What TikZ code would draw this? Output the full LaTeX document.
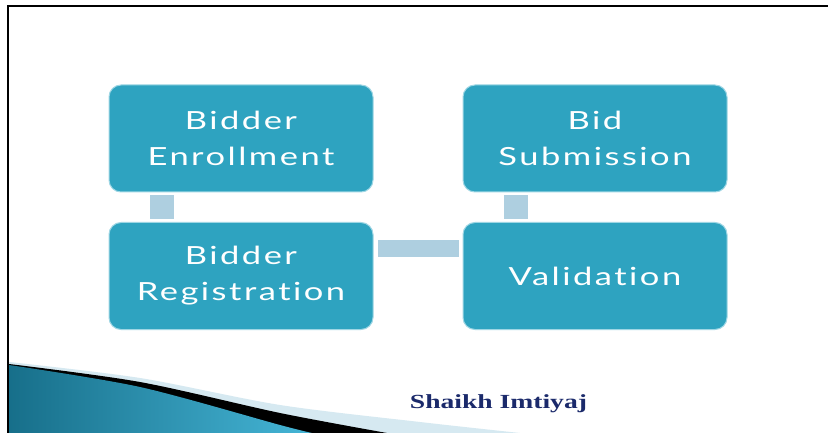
\documentclass[tikz,border=0pt]{standalone}
\usepackage{fontspec}
\usetikzlibrary{calc}
\newfontfamily\boxfont[FakeStretch=1.38,LetterSpace=10,Ligatures={NoCommon,NoRare}]{Lato}
\newfontfamily\authfont[FakeStretch=1.38]{Liberation Serif}
\definecolor{boxfill}{HTML}{2EA3C0}
\definecolor{boxedge}{HTML}{9ED6E4}
\definecolor{connfill}{HTML}{AECFE0}
\definecolor{tealdark}{HTML}{176F8A}
\definecolor{teallight}{HTML}{45B5D6}
\definecolor{paleblue}{HTML}{D6E9F1}
\definecolor{navy}{HTML}{1B2A6B}
\tikzset{
  stepbox/.style={draw=boxedge, line width=1pt, fill=boxfill, rounded corners=12pt,
    minimum width=264pt, minimum height=107pt, inner sep=0pt,
    text=white, align=center, font=\boxfont\fontsize{25}{36}\selectfont},
  conn/.style={fill=connfill},
  frame/.style={line width=2pt, draw=black}
}
\begin{document}
\begin{tikzpicture}[x=1pt,y=-1pt]
\useasboundingbox (0,0) rectangle (828,433);
\fill[white] (0,0) rectangle (828,433);
% frame
\draw[frame] (8,433) -- (8,6) -- (828,6);
% swoosh
\fill[paleblue] plot[smooth, tension=0.5] coordinates {(9,362) (140,378) (280,405) (420,422) (520,433)} -- (9,433) -- cycle;
\fill[black] plot[smooth, tension=0.5] coordinates {(9,364) (140,382) (280,413) (387,433)} -- (9,433) -- cycle;
\shade[left color=tealdark, right color=teallight]
  plot[smooth, tension=0.5] coordinates {(9,365) (140,387) (280,425) (312,433)} -- (9,433) -- cycle;
% boxes
\node[stepbox] (b1) at (241,138.5) {Bidder\\Enrollment};
\node[stepbox] (b2) at (241,276) {Bidder\\Registration};
\node[stepbox] (b3) at (595,138.5) {Bid\\Submission};
\node[stepbox] (b4) at (595,276) {Validation};
% connectors
\fill[conn] ($(b1.south west)+(41,3)$) rectangle ($(b2.north west)+(65,-3)$);
\fill[conn] ($(b3.south west)+(41,3)$) rectangle ($(b4.north west)+(65,-3)$);
\fill[conn] ($(b2.east)+(4,-36)$) rectangle ($(b4.west)+(-4,-19)$);
% author
\node[font=\authfont\bfseries\fontsize{20}{24}\selectfont, text=navy, anchor=base] (auth) at (498.5,408) {Shaikh Imtiyaj};
\end{tikzpicture}
\end{document}
